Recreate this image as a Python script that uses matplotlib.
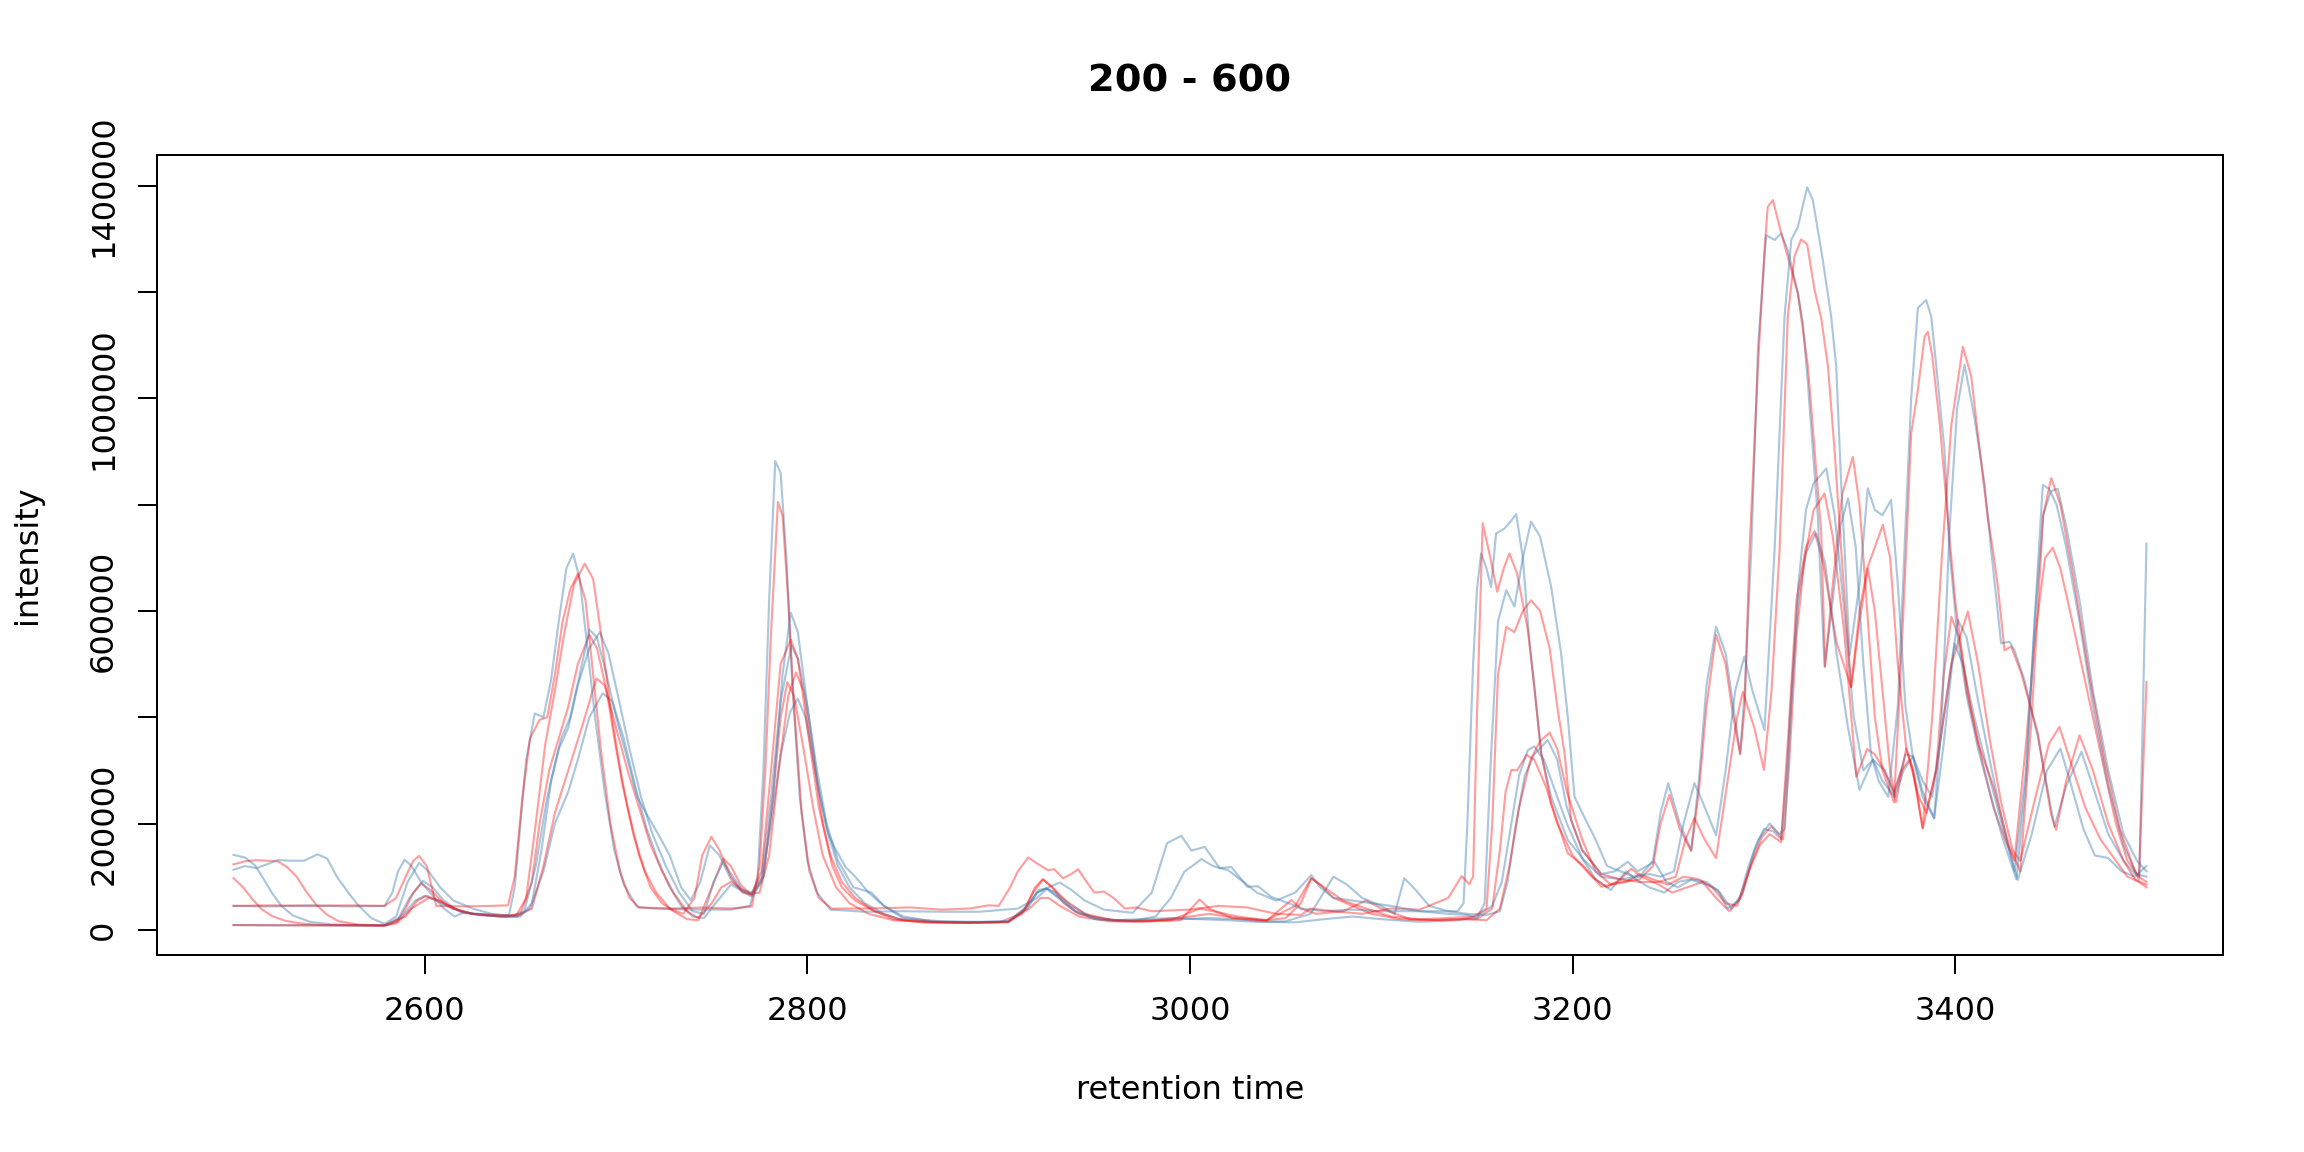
import matplotlib
matplotlib.use("Agg")
from matplotlib import pyplot as plt

# retention time, intensity (in thousands)
blue_1 = [(2500, 141), (2506, 136), (2511, 122), (2515, 100), (2520, 70), (2525, 45), (2531, 27), (2540, 15),
          (2552, 10), (2570, 8), (2580, 8), (2586, 20), (2592, 60), (2599, 92), (2604, 80), (2610, 55), (2618, 35),
          (2628, 28), (2640, 25), (2648, 24), (2655, 40), (2662, 110), (2668, 200), (2675, 260), (2680, 320),
          (2686, 400), (2693, 445), (2698, 430), (2704, 360), (2710, 270), (2716, 190), (2722, 130), (2728, 80),
          (2734, 45), (2740, 25), (2746, 22), (2752, 50), (2760, 85), (2765, 75), (2771, 62), (2776, 90),
          (2781, 200), (2786, 330), (2791, 410), (2795, 435), (2799, 400), (2804, 300), (2810, 190), (2816, 120),
          (2822, 80), (2830, 50), (2840, 30), (2850, 18), (2870, 14), (2890, 14), (2905, 15), (2913, 35),
          (2920, 70), (2925, 78), (2932, 60), (2940, 35), (2950, 20), (2965, 16), (2980, 18), (2995, 20),
          (3010, 22), (3025, 20), (3040, 15), (3055, 14), (3070, 20), (3085, 25), (3100, 20), (3120, 15),
          (3140, 18), (3150, 25), (3158, 45), (3163, 90), (3168, 200), (3172, 290), (3176.6, 338), (3180, 345),
          (3185, 320), (3190, 270), (3197, 200), (3205, 135), (3212, 95), (3220, 75), (3228, 110), (3233, 95),
          (3240, 80), (3248, 70), (3255, 90), (3262, 95), (3270, 90), (3277, 70), (3283, 40), (3289, 70),
          (3295, 150), (3300, 190), (3305, 185), (3309, 170), (3312, 300), (3315, 480), (3318, 620), (3322, 710),
          (3327.3, 746), (3332, 690), (3338, 520), (3344, 380), (3350, 263), (3357, 320), (3363, 300),
          (3368, 255), (3374, 330), (3378, 326), (3383, 260), (3389, 210), (3394, 350), (3399.6, 539),
          (3404, 500), (3410, 400), (3417, 300), (3425, 190), (3432.7, 94), (3440, 180), (3448, 300),
          (3455, 341), (3460, 280), (3467, 190), (3473, 140), (3480, 135), (3487, 110), (3494, 100), (3500, 120)]

red_1 = [(2500, 123), (2506, 129), (2512, 131), (2518, 130), (2523, 129), (2528, 118), (2533, 100), (2538, 72),
         (2543, 48), (2549, 28), (2555, 16), (2565, 10), (2578, 8), (2585, 12), (2590, 40), (2594, 70), (2598, 87),
         (2603, 75), (2610, 50), (2620, 32), (2632, 27), (2642, 24), (2650, 30), (2656, 90), (2660, 200),
         (2665, 300), (2670, 360), (2675, 420), (2680, 500), (2686, 555), (2690, 530), (2695, 450), (2700, 340),
         (2706, 230), (2712, 140), (2718, 80), (2724, 50), (2730, 35), (2737, 20), (2743, 18), (2750, 80),
         (2756, 134), (2760, 120), (2765, 85), (2770, 68), (2775, 70), (2780, 140), (2785, 300), (2790, 440),
         (2794, 484), (2798, 450), (2803, 330), (2808, 200), (2813, 120), (2818, 80), (2825, 55), (2835, 35),
         (2845, 20), (2860, 14), (2880, 13), (2900, 14), (2912, 30), (2918, 70), (2923.2, 95), (2928, 80),
         (2934, 50), (2942, 30), (2955, 20), (2970, 16), (2990, 18), (3005, 40), (3012, 35), (3025, 25),
         (3040, 18), (3050, 22), (3058, 50), (3063.4, 97), (3068, 85), (3075, 60), (3085, 45), (3095, 30),
         (3110, 20), (3125, 18), (3140, 20), (3150, 20), (3158, 40), (3162, 150), (3165, 260), (3168, 301),
         (3171, 300), (3176, 329), (3180, 320), (3186, 270), (3192, 200), (3200, 140), (3210, 100), (3218, 80),
         (3225, 95), (3230.6, 115), (3236, 100), (3245, 85), (3252, 70), (3260, 80), (3268, 90), (3275, 60),
         (3282, 35), (3288, 60), (3294, 130), (3299, 175), (3304, 195), (3310, 170), (3313, 300), (3317, 550),
         (3321, 690), (3326, 790), (3331.7, 821), (3336, 740), (3342, 560), (3348.3, 288), (3354, 340),
         (3358, 330), (3363, 300), (3368, 260), (3372, 300), (3376, 320), (3381, 250), (3385, 220), (3390, 300),
         (3394, 480), (3398, 589), (3402, 550), (3408, 420), (3414, 320), (3420, 230), (3426, 170), (3431, 130),
         (3437, 350), (3442, 560), (3447, 700), (3451, 719), (3455, 680), (3460, 600), (3466, 500), (3472, 400),
         (3478, 300), (3484, 200), (3490, 130), (3496, 100), (3500, 90)]

blue_2 = [(2500, 113), (2506, 120), (2512, 116), (2518, 124), (2523, 131), (2530, 130), (2537, 130), (2541, 137),
          (2544, 142), (2549, 134), (2554, 100), (2560, 70), (2565, 47), (2572, 22), (2579, 11), (2585, 25),
          (2591, 90), (2597, 126), (2602, 110), (2608, 80), (2615, 55), (2625, 40), (2635, 30), (2645, 26),
          (2652, 35), (2658, 120), (2664, 250), (2670, 340), (2675, 380), (2680, 460), (2686, 530), (2691.5, 560),
          (2696, 520), (2701, 440), (2707, 340), (2713, 250), (2719, 180), (2726, 120), (2733, 70), (2740, 35),
          (2746, 30), (2751, 90), (2756, 128), (2761, 100), (2766, 75), (2771, 70), (2776, 100), (2781, 250),
          (2786, 430), (2791.6, 535), (2795, 510), (2800, 420), (2805, 300), (2810, 200), (2816, 130), (2824, 80),
          (2833.5, 70), (2840, 45), (2850, 25), (2865, 16), (2885, 14), (2905, 16), (2915, 40), (2920, 70),
          (2925, 78), (2930, 70), (2938, 45), (2948, 25), (2960, 18), (2975, 20), (2990, 22), (3005, 20),
          (3020, 18), (3035, 15), (3050, 16), (3063, 30), (3075, 100), (3082, 85), (3090, 60), (3100, 45),
          (3107, 30), (3112, 97), (3118, 75), (3125, 45), (3135, 35), (3145, 30), (3155, 28), (3162, 35),
          (3166, 90), (3170, 190), (3175, 290), (3180, 330), (3187, 357), (3192, 320), (3197, 230), (3205, 150),
          (3215, 105), (3222, 110), (3228.8, 128), (3234, 110), (3242.8, 128), (3249, 90), (3255, 80), (3262, 94),
          (3270, 85), (3276, 75), (3281, 40), (3287, 55), (3292, 120), (3297, 169), (3303, 200), (3308, 180),
          (3311, 190), (3314, 400), (3318, 650), (3322, 790), (3326, 840), (3332.6, 868), (3337, 780),
          (3342, 600), (3347, 400), (3352, 300), (3357, 320), (3362, 280), (3368.3, 250), (3373, 300),
          (3377.9, 326), (3383, 280), (3388, 250), (3394, 400), (3401.4, 583), (3406, 550), (3412, 430),
          (3418, 320), (3425, 200), (3431, 110), (3437, 300), (3442, 600), (3446, 780), (3450, 825),
          (3453.6, 830), (3458, 760), (3465, 620), (3472, 450), (3480, 300), (3488, 180), (3495, 130), (3500, 110)]

red_2 = [(2500, 97), (2505, 80), (2510, 57), (2515, 38), (2520, 26), (2527, 17), (2535, 12), (2545, 9), (2560, 8),
         (2578, 8), (2586, 15), (2593, 40), (2602, 60), (2608, 55), (2615, 40), (2625, 30), (2640, 28), (2648, 26),
         (2656, 40), (2662, 120), (2668, 220), (2675, 300), (2682, 380), (2689.7, 473), (2694, 460), (2700, 380),
         (2706, 300), (2712, 230), (2718, 160), (2724, 110), (2730, 70), (2737, 35), (2743, 22), (2750, 50),
         (2755, 80), (2760, 90), (2765, 78), (2771, 66), (2777, 100), (2782, 250), (2786, 400), (2789.5, 466),
         (2793, 440), (2798, 340), (2803, 230), (2808, 140), (2815, 80), (2822, 50), (2832, 30), (2845, 18),
         (2865, 14), (2885, 13), (2905, 14), (2916, 40), (2922, 60), (2926, 60), (2932, 45), (2942, 25),
         (2958, 16), (2975, 15), (2995, 18), (3005, 57), (3010, 40), (3022, 22), (3040, 17), (3053, 56),
         (3058, 40), (3066, 30), (3080, 35), (3092, 55), (3100, 40), (3115, 20), (3130, 18), (3145, 20),
         (3155, 18), (3162, 40), (3167, 120), (3172, 230), (3178, 320), (3183, 355), (3188, 371), (3192, 340),
         (3197, 260), (3205, 170), (3212, 110), (3220, 85), (3228, 90), (3235, 105), (3242, 95), (3250, 85),
         (3258, 100), (3266, 95), (3273, 80), (3280, 50), (3286, 45), (3292, 110), (3298, 160), (3303, 180),
         (3309, 165), (3313, 380), (3317, 620), (3322, 720), (3326.5, 750), (3331, 690), (3338, 540),
         (3345.6, 457), (3350, 580), (3354.3, 680), (3358, 600), (3362, 450), (3366, 300), (3369, 240),
         (3374.4, 341), (3378, 300), (3383, 191), (3390, 300), (3398, 500), (3406.6, 599), (3412, 500),
         (3418, 360), (3424, 240), (3430, 150), (3434, 130), (3442, 250), (3449, 350), (3454.5, 382),
         (3460, 320), (3468, 230), (3476, 170), (3484, 130), (3490, 100), (3500, 85)]

blue_3 = [(2500, 45), (2520, 44), (2540, 46), (2560, 44), (2579, 45), (2583, 70), (2586, 110), (2589.5, 132),
          (2593, 120), (2598, 90), (2604, 65), (2610, 40), (2615.6, 25), (2620, 32), (2628, 30), (2638, 26),
          (2644, 28), (2647, 80), (2650, 200), (2653, 320), (2657.5, 407), (2662, 400), (2666, 470), (2670, 580),
          (2674, 680), (2677.5, 708), (2681, 660), (2685, 530), (2689, 400), (2694, 260), (2699, 150), (2704, 85),
          (2711, 43), (2720, 40), (2740, 38), (2760, 38), (2770, 45), (2774, 100), (2777, 300), (2780, 620),
          (2783.2, 882), (2786, 860), (2789, 700), (2792, 470), (2796, 250), (2800, 130), (2805, 70), (2812, 38),
          (2830, 34), (2850, 35), (2870, 34), (2890, 34), (2910, 40), (2920, 60), (2926, 80), (2932, 89),
          (2938, 75), (2945, 55), (2955, 38), (2970, 32), (2980, 70), (2988, 163), (2995.5, 177), (3000.7, 149),
          (3007.7, 156), (3015.5, 116), (3021.6, 118), (3030, 81), (3035.5, 82), (3042.5, 62), (3053, 48),
          (3058, 40), (3070, 35), (3085, 38), (3100, 35), (3115, 35), (3130, 35), (3140, 35), (3143, 50),
          (3145, 200), (3148, 500), (3150, 640), (3152.2, 708), (3155, 680), (3157.4, 645), (3160, 746),
          (3164.4, 755), (3168, 770), (3170.5, 782), (3174, 700), (3177, 560), (3180, 457), (3183.6, 332),
          (3188.8, 250), (3197.5, 169), (3206, 131), (3215, 100), (3225, 95), (3235, 100), (3242, 130),
          (3246, 220), (3250, 276), (3256, 200), (3262, 150), (3266, 280), (3270, 460), (3275, 570), (3280, 520),
          (3284, 420), (3287.6, 332), (3290, 450), (3293.4, 715), (3297, 1100), (3301.2, 1307), (3305.6, 1298),
          (3309, 1310), (3312.5, 1279), (3317.8, 1197), (3320.4, 1141), (3323, 1028), (3325.6, 903),
          (3328.2, 777), (3331.7, 495), (3336, 620), (3340, 760), (3344, 812), (3348, 720), (3352, 500),
          (3356, 330), (3360, 280), (3365, 250), (3370, 420), (3373.5, 715), (3377, 1000), (3380.5, 1170),
          (3384.8, 1185), (3387.5, 1154), (3391, 1028), (3394.4, 903), (3397, 715), (3401, 560), (3406, 440),
          (3412, 340), (3418, 260), (3425, 170), (3432, 95), (3437, 280), (3441, 550), (3445.8, 837), (3449, 830),
          (3453, 800), (3458, 720), (3465, 580), (3472, 420), (3480, 270), (3488, 160), (3494, 110),
          (3496.3, 101), (3500, 727)]

red_3 = [(2500, 45), (2520, 46), (2540, 45), (2560, 46), (2579, 45), (2585, 60), (2590, 100), (2594, 130),
         (2597, 139), (2601, 120), (2606, 45), (2620, 44), (2635, 45), (2643.5, 46), (2647, 100), (2651, 250),
         (2655, 360), (2660, 395), (2664, 400), (2668, 480), (2672, 580), (2676, 640), (2680, 670), (2684, 620),
         (2688, 480), (2692, 340), (2697, 200), (2702, 110), (2707, 60), (2712, 42), (2730, 40), (2745, 42),
         (2760, 40), (2771, 44), (2775, 120), (2778, 300), (2781, 560), (2784.6, 805), (2787, 780), (2790, 620),
         (2793, 420), (2797, 220), (2801, 110), (2806, 60), (2812.6, 40), (2830, 40), (2854, 42), (2870, 38),
         (2885, 40), (2894.5, 46), (2900, 45), (2906, 80), (2910, 110), (2915.4, 136), (2920, 125),
         (2925.8, 112), (2929, 114), (2933.6, 97), (2938, 105), (2941.5, 114), (2946, 90), (2950, 70),
         (2955, 72), (2960, 60), (2966, 40), (2972, 42), (2980, 35), (3000, 38), (3015, 45), (3030, 42),
         (3045, 30), (3058, 28), (3063, 40), (3075, 35), (3090, 30), (3105, 40), (3120, 38), (3135, 60),
         (3142, 101), (3146, 86), (3148, 100), (3150, 400), (3153, 765), (3157, 700), (3160.6, 636), (3164, 680),
         (3167, 708), (3171, 670), (3176.6, 564), (3180, 457), (3183.6, 332), (3188.8, 238), (3197.5, 144),
         (3206, 119), (3215, 81), (3225, 90), (3235, 95), (3242, 120), (3246, 200), (3250.6, 254), (3256, 190),
         (3262, 148), (3266, 260), (3270, 420), (3275, 555), (3280, 500), (3284, 400), (3287.6, 330), (3290, 420),
         (3292.5, 715), (3296.9, 1060), (3300.3, 1279), (3302, 1360), (3304.7, 1373), (3308.2, 1323),
         (3312.5, 1266), (3317.8, 1197), (3323, 1060), (3326.5, 903), (3330, 746), (3332, 495), (3336, 650),
         (3341, 820), (3346.5, 890), (3350, 800), (3354, 600), (3358, 400), (3362, 300), (3368, 240), (3371, 450),
         (3374.4, 715), (3377, 934), (3380.5, 1016), (3384, 1116), (3385.7, 1125), (3388, 1080), (3392, 950),
         (3396, 780), (3400, 620), (3406, 450), (3412, 350), (3420, 270), (3428, 160), (3434, 110), (3440, 400),
         (3446, 780), (3450.2, 850), (3455, 800), (3462, 660), (3470, 480), (3478, 320), (3486, 190), (3494, 110),
         (3496, 95), (3500, 466)]

blue_4 = [(2500, 9), (2520, 8), (2540, 9), (2560, 8), (2579, 9), (2588, 25), (2595, 55), (2600, 64), (2606, 55),
          (2614, 40), (2625, 30), (2640, 25), (2650, 25), (2656, 50), (2661, 150), (2666, 280), (2671, 357),
          (2676, 400), (2681, 480), (2686, 565), (2690, 550), (2695, 480), (2700, 400), (2706, 320), (2711, 250),
          (2716.7, 213), (2722, 180), (2728, 140), (2734, 80), (2739, 56), (2744, 90), (2749, 159), (2754, 140),
          (2760, 95), (2766, 72), (2772, 68), (2777, 100), (2782, 250), (2787, 480), (2791.3, 597), (2795, 560),
          (2800, 420), (2806, 260), (2811, 180), (2814, 156), (2820, 118), (2825, 100), (2832, 70), (2840, 45),
          (2850, 22), (2870, 16), (2890, 15), (2905, 16), (2915, 45), (2921, 75), (2925, 78), (2931, 60),
          (2940, 35), (2952, 20), (2970, 17), (2982, 25), (2990, 60), (2997, 109), (3006, 133), (3012, 120),
          (3020, 112), (3028, 90), (3035, 70), (3045, 55), (3055, 70), (3063.4, 103), (3068, 80), (3075, 60),
          (3085, 55), (3095, 50), (3105, 45), (3120, 35), (3135, 30), (3145, 28), (3150, 22), (3154, 50),
          (3157, 300), (3161, 580), (3165.3, 639), (3169.6, 608), (3174, 700), (3178.3, 768), (3183, 740),
          (3188.8, 645), (3194, 520), (3197.5, 400), (3201, 250), (3206, 213), (3212, 170), (3218, 120),
          (3225, 110), (3232, 100), (3240, 105), (3246, 100), (3253, 110), (3258, 200), (3263.7, 276), (3268, 240),
          (3275, 178), (3280, 300), (3285, 450), (3289.8, 514), (3294, 450), (3300.3, 376), (3303, 550),
          (3305.6, 715), (3310.8, 1154), (3314.3, 1298), (3317.8, 1323), (3322.6, 1397), (3325.6, 1373),
          (3330.8, 1260), (3335.2, 1153), (3337.8, 1060), (3340.4, 840), (3342.2, 715), (3344.8, 517), (3350, 650),
          (3354.3, 831), (3358, 790), (3362, 780), (3366.5, 809), (3370, 650), (3374, 420), (3377.9, 326),
          (3383, 250), (3389, 210), (3393, 400), (3397, 750), (3401, 980), (3404.9, 1063), (3410, 965),
          (3415.3, 840), (3418.8, 715), (3424, 539), (3428.4, 542), (3431, 526), (3436.2, 470), (3443.2, 363),
          (3451.9, 194), (3458, 270), (3466, 335), (3472, 270), (3480, 180), (3488, 130), (3494, 105), (3500, 100)]

red_4 = [(2500, 9), (2520, 9), (2540, 8), (2560, 9), (2579, 8), (2590, 25), (2596, 55), (2601, 64), (2607, 55),
         (2615, 40), (2625, 30), (2640, 26), (2648, 28), (2653, 60), (2658, 200), (2663, 350), (2668, 450),
         (2673, 560), (2678, 650), (2683.6, 689), (2688, 660), (2692, 560), (2697, 420), (2703, 280), (2709, 180),
         (2715, 110), (2721, 70), (2728, 40), (2735, 30), (2741, 60), (2745, 140), (2749.8, 175), (2754, 150),
         (2760, 100), (2766, 70), (2770.7, 66), (2776, 110), (2781, 300), (2786, 500), (2791.3, 546), (2795, 510),
         (2800, 380), (2806, 230), (2812, 140), (2818, 90), (2825, 60), (2835, 35), (2848, 20), (2865, 15),
         (2885, 14), (2905, 15), (2914, 40), (2919, 80), (2923, 95), (2928, 80), (2935, 55), (2945, 30),
         (2960, 18), (2980, 17), (3000, 25), (3010, 30), (3025, 22), (3040, 18), (3055, 45), (3063.4, 97),
         (3070, 80), (3080, 55), (3092, 40), (3105, 25), (3120, 20), (3135, 22), (3148, 25), (3155, 40),
         (3158, 200), (3161, 480), (3165.3, 570), (3169.6, 560), (3174, 600), (3178.3, 620), (3183, 600),
         (3188, 530), (3192, 420), (3195.8, 332), (3199.2, 206), (3205, 150), (3215, 105), (3225, 95), (3235, 90),
         (3245, 90), (3254, 100), (3259, 170), (3263.7, 210), (3269, 170), (3275, 135), (3281, 280), (3286, 400),
         (3289, 448), (3295, 380), (3300, 301), (3304, 450), (3308.2, 715), (3312.5, 1154), (3316, 1267),
         (3319.5, 1299), (3322.6, 1290), (3326.5, 1204), (3330, 1150), (3333.5, 1060), (3337, 900),
         (3340.4, 715), (3345.6, 457), (3350, 600), (3354, 680), (3358, 720), (3362.2, 762), (3366, 700),
         (3370, 500), (3374.4, 341), (3378, 300), (3383, 191), (3388, 400), (3393, 700), (3398, 950),
         (3404, 1097), (3408.4, 1041), (3411.8, 934), (3417, 777), (3419.7, 715), (3422.3, 646), (3425.8, 526),
         (3429.3, 533), (3434.5, 483), (3443.2, 370), (3450, 219), (3452.8, 188), (3458, 280), (3465, 366),
         (3472, 300), (3480, 200), (3488, 130), (3494, 95), (3500, 80)]

# R drops the y labels that would collide, only these are printed
y_ticks = [0, 200000, 400000, 600000, 800000, 1000000, 1200000, 1400000]
y_labels = ["0", "200000", "", "600000", "", "1000000", "", "1400000"]
x_ticks = [2600, 2800, 3000, 3200, 3400]

BLUE = (70 / 255, 130 / 255, 180 / 255, 0.45)
RED = (1.0, 0.0, 0.0, 0.38)

traces = [(blue_1, BLUE), (red_1, RED), (blue_2, BLUE), (red_2, RED),
          (blue_3, BLUE), (red_3, RED), (blue_4, BLUE), (red_4, RED)]


def main():
    fig = plt.figure(figsize=(12, 6), dpi=192)
    ax = fig.add_axes([157 / 2304, 1 - 955 / 1152, 2066 / 2304, 800 / 1152])

    for pts, col in traces:
        rt = [p[0] for p in pts]
        inten = [p[1] * 1000 for p in pts]
        ax.plot(rt, inten, color=col, linewidth=0.8)

    ax.set_xlim(2460, 3540)
    ax.set_ylim(-47400, 1457800)
    ax.set_xticks(x_ticks)
    ax.set_yticks(y_ticks)
    ax.set_yticklabels(y_labels, rotation=90, va="center")

    ax.tick_params(direction="out", length=7.2, width=0.75, labelsize=12, pad=8)
    ax.tick_params(axis="y", pad=7)
    for s in ax.spines.values():
        s.set_linewidth(0.75)

    ax.set_xlabel("retention time", fontsize=12, labelpad=18)
    ax.set_ylabel("intensity", fontsize=12, labelpad=17)
    ax.set_title("200 - 600", fontsize=14.4, fontweight="bold", pad=24)

    fig.savefig("out.png", dpi=192)
    plt.close(fig)


if __name__ == "__main__":
    main()
